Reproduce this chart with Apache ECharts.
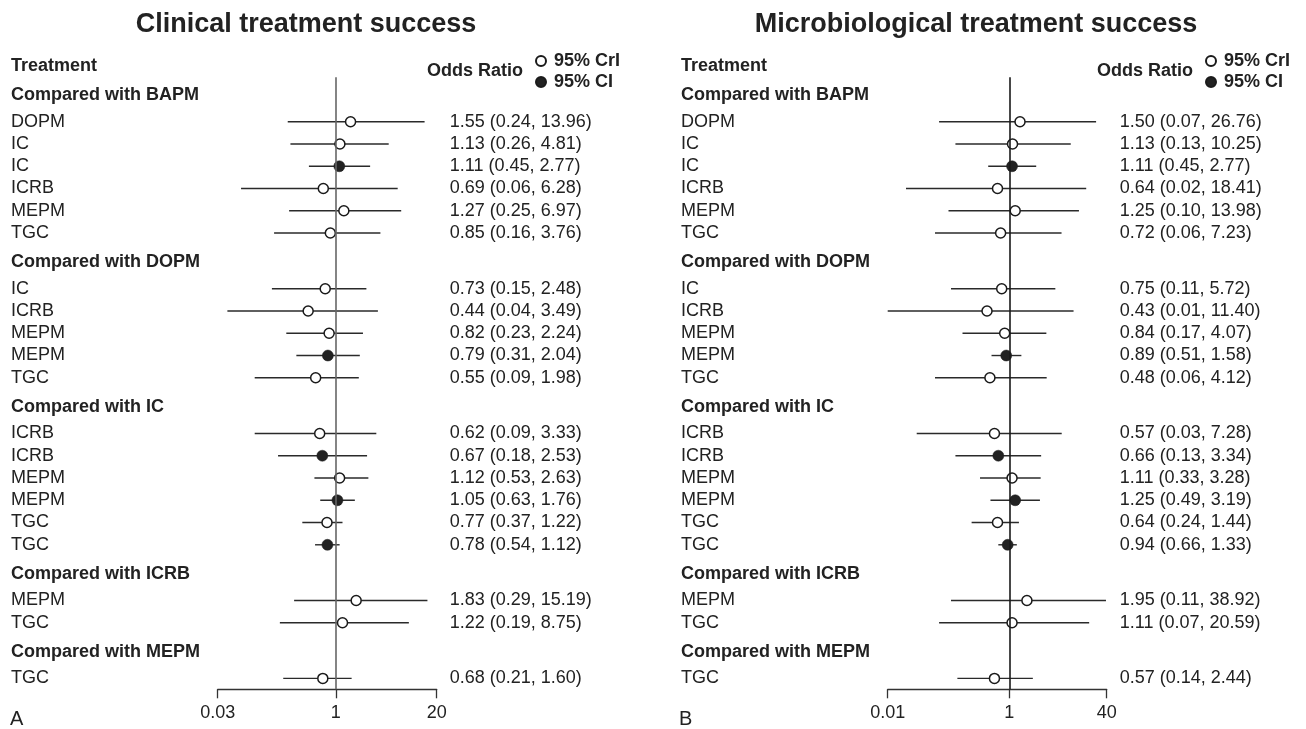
<!DOCTYPE html>
<html>
<head>
<meta charset="utf-8">
<title>Treatment success odds ratios</title>
<script src="https://cdn.jsdelivr.net/npm/echarts@6/dist/echarts.min.js"></script>
<style>
  html, body { margin: 0; padding: 0; background: #fff; }
  #chart { width: 1306px; height: 729px; }
</style>
</head>
<body>
<div id="chart"></div>
<script>
// comparison groups, top to bottom
const groupTitles = ['Compared with BAPM', 'Compared with DOPM', 'Compared with IC', 'Compared with ICRB', 'Compared with MEPM'];
const groupSizes = [6, 5, 6, 2, 1];

// one entry per plotted row
const treatments = [
  'DOPM', 'IC', 'IC', 'ICRB', 'MEPM', 'TGC',
  'IC', 'ICRB', 'MEPM', 'MEPM', 'TGC',
  'ICRB', 'ICRB', 'MEPM', 'MEPM', 'TGC', 'TGC',
  'MEPM', 'TGC',
  'TGC'
];
// CrI = network meta-analysis (open), CI = pairwise (filled)
const intervalKind = [
  'CrI', 'CrI', 'CI', 'CrI', 'CrI', 'CrI',
  'CrI', 'CrI', 'CrI', 'CI', 'CrI',
  'CrI', 'CI', 'CrI', 'CI', 'CrI', 'CI',
  'CrI', 'CrI',
  'CrI'
];

// A - clinical treatment success
const clinicalOR = [1.55, 1.13, 1.11, 0.69, 1.27, 0.85, 0.73, 0.44, 0.82, 0.79, 0.55, 0.62, 0.67, 1.12, 1.05, 0.77, 0.78, 1.83, 1.22, 0.68];
const clinicalLow = [0.24, 0.26, 0.45, 0.06, 0.25, 0.16, 0.15, 0.04, 0.23, 0.31, 0.09, 0.09, 0.18, 0.53, 0.63, 0.37, 0.54, 0.29, 0.19, 0.21];
const clinicalHigh = [13.96, 4.81, 2.77, 6.28, 6.97, 3.76, 2.48, 3.49, 2.24, 2.04, 1.98, 3.33, 2.53, 2.63, 1.76, 1.22, 1.12, 15.19, 8.75, 1.60];
const clinicalTicks = [0.03, 1, 20];

// B - microbiological treatment success
const microOR = [1.50, 1.13, 1.11, 0.64, 1.25, 0.72, 0.75, 0.43, 0.84, 0.89, 0.48, 0.57, 0.66, 1.11, 1.25, 0.64, 0.94, 1.95, 1.11, 0.57];
const microLow = [0.07, 0.13, 0.45, 0.02, 0.10, 0.06, 0.11, 0.01, 0.17, 0.51, 0.06, 0.03, 0.13, 0.33, 0.49, 0.24, 0.66, 0.11, 0.07, 0.14];
const microHigh = [26.76, 10.25, 2.77, 18.41, 13.98, 7.23, 5.72, 11.40, 4.07, 1.58, 4.12, 7.28, 3.34, 3.28, 3.19, 1.44, 1.33, 38.92, 20.59, 2.44];
const microTicks = [0.01, 1, 40];

const FONT = "'Liberation Sans', Arial, Helvetica, sans-serif";
const INK = '#222';

// row slots: headers sit a little apart from their items
const headerPos = [];
const rowPos = [];
(function () {
  let y = 0;
  groupSizes.forEach((n, g) => {
    if (g > 0) y += 1.3;
    headerPos.push(y);
    y += 1.2;
    for (let i = 0; i < n; i++) {
      rowPos.push(y);
      if (i < n - 1) y += 1;
    }
  });
})();

const panels = [
  { title: 'Clinical treatment success', tag: 'A', or: clinicalOR, lo: clinicalLow, hi: clinicalHigh,
    ticks: clinicalTicks, gridLeft: 217.7, refColor: '#666' },
  { title: 'Microbiological treatment success', tag: 'B', or: microOR, lo: microLow, hi: microHigh,
    ticks: microTicks, gridLeft: 887.7, refColor: '#1a1a1a' }
];

const fmt = v => v.toFixed(2);

const grid = [], xAxis = [], yAxis = [], series = [], legend = [], graphic = [];

panels.forEach((p, k) => {
  const shift = k * 670;
  grid.push({ left: p.gridLeft, width: 219, top: 77.3, height: 612 });
  xAxis.push({
    gridIndex: k,
    type: 'log',
    position: 'bottom',
    min: p.ticks[0],
    max: p.ticks[p.ticks.length - 1],
    axisLine: { show: true, onZero: false, lineStyle: { color: '#333', width: 1.3 } },
    axisTick: { show: true, length: 9, customValues: p.ticks, lineStyle: { color: '#333', width: 1.3 } },
    axisLabel: { customValues: p.ticks, margin: 15, color: INK, fontSize: 18, fontFamily: FONT,
      formatter: v => String(+v.toPrecision(3)) },
    splitLine: { show: false },
    minorTick: { show: false }
  });
  yAxis.push({ gridIndex: k, type: 'value', inverse: true, min: -0.795, max: 26.69, show: false });

  // confidence / credible interval bars plus row text
  series.push({
    type: 'custom',
    name: 'bars' + k,
    xAxisIndex: k,
    yAxisIndex: k,
    encode: { x: [0, 1], y: 2 },
    data: treatments.map((t, i) => [p.lo[i], p.hi[i], rowPos[i], i]),
    renderItem: (params, api) => {
      const a = api.coord([api.value(0), api.value(2)]);
      const b = api.coord([api.value(1), api.value(2)]);
      const cs = params.coordSys;
      const i = api.value(3);
      return {
        type: 'group',
        children: [
          { type: 'line', shape: { x1: a[0], y1: a[1], x2: b[0], y2: b[1] },
            style: { stroke: '#2a2a2a', lineWidth: 1.4 } },
          { type: 'text', x: cs.x - 206.7, y: a[1],
            style: { text: treatments[i], fill: INK, fontSize: 18, fontFamily: FONT, align: 'left', verticalAlign: 'middle' } },
          { type: 'text', x: cs.x + cs.width + 13, y: a[1],
            style: { text: fmt(p.or[i]) + ' (' + fmt(p.lo[i]) + ', ' + fmt(p.hi[i]) + ')',
              fill: INK, fontSize: 18, fontFamily: FONT, align: 'left', verticalAlign: 'middle' } }
        ]
      };
    },
    markLine: {
      silent: true,
      symbol: 'none',
      label: { show: false },
      lineStyle: { color: p.refColor, width: 1.6, type: 'solid' },
      data: [{ xAxis: 1 }]
    },
    z: 2
  });

  // group headings
  series.push({
    type: 'custom',
    name: 'groups' + k,
    xAxisIndex: k,
    yAxisIndex: k,
    encode: { x: 0, y: 1 },
    data: groupTitles.map((g, j) => [1, headerPos[j], j]),
    renderItem: (params, api) => {
      const c = api.coord([1, api.value(1)]);
      return { type: 'text', x: params.coordSys.x - 206.7, y: c[1],
        style: { text: groupTitles[api.value(2)], fill: INK, fontSize: 18, fontWeight: 'bold', fontFamily: FONT,
          align: 'left', verticalAlign: 'middle' } };
    }
  });

  series.push({
    type: 'scatter',
    name: '95% CrI',
    xAxisIndex: k,
    yAxisIndex: k,
    symbol: 'circle',
    symbolSize: 10,
    itemStyle: { color: '#fff', borderColor: '#1a1a1a', borderWidth: 1.5, opacity: 1 },
    data: treatments.map((t, i) => [p.or[i], rowPos[i]]).filter((d, i) => intervalKind[i] === 'CrI'),
    z: 3
  });
  series.push({
    type: 'scatter',
    name: '95% CI',
    xAxisIndex: k,
    yAxisIndex: k,
    symbol: 'circle',
    symbolSize: 11,
    itemStyle: { color: '#222', borderColor: '#1a1a1a', borderWidth: 0.5, opacity: 1 },
    data: treatments.map((t, i) => [p.or[i], rowPos[i]]).filter((d, i) => intervalKind[i] === 'CI'),
    z: 3
  });

  legend.push({
    orient: 'vertical',
    left: 535 + shift,
    top: 52,
    padding: 0,
    itemWidth: 10,
    itemHeight: 10,
    itemGap: 3,
    icon: 'circle',
    selectedMode: false,
    data: ['95% CrI', '95% CI'],
    textStyle: { color: INK, fontSize: 18, fontWeight: 'bold', fontFamily: FONT, padding: [0, 0, 0, 3] }
  });

  graphic.push(
    { type: 'text', x: 306 + shift, y: 25,
      style: { text: p.title, fill: INK, fontSize: 27, fontWeight: 'bold', fontFamily: FONT, align: 'center', verticalAlign: 'middle' } },
    { type: 'text', x: 11 + shift, y: 66,
      style: { text: 'Treatment', fill: INK, fontSize: 18, fontWeight: 'bold', fontFamily: FONT, align: 'left', verticalAlign: 'middle' } },
    { type: 'text', x: 427 + shift, y: 71,
      style: { text: 'Odds Ratio', fill: INK, fontSize: 18, fontWeight: 'bold', fontFamily: FONT, align: 'left', verticalAlign: 'middle' } },
    { type: 'text', x: 10 + k * 669, y: 719,
      style: { text: p.tag, fill: INK, fontSize: 20, fontFamily: FONT, align: 'left', verticalAlign: 'middle' } }
  );
});

const chart = echarts.init(document.getElementById('chart'));
chart.setOption({
  animation: false,
  backgroundColor: '#fff',
  grid, xAxis, yAxis, series, legend, graphic
});
window.addEventListener('resize', () => chart.resize());
</script>
</body>
</html>
